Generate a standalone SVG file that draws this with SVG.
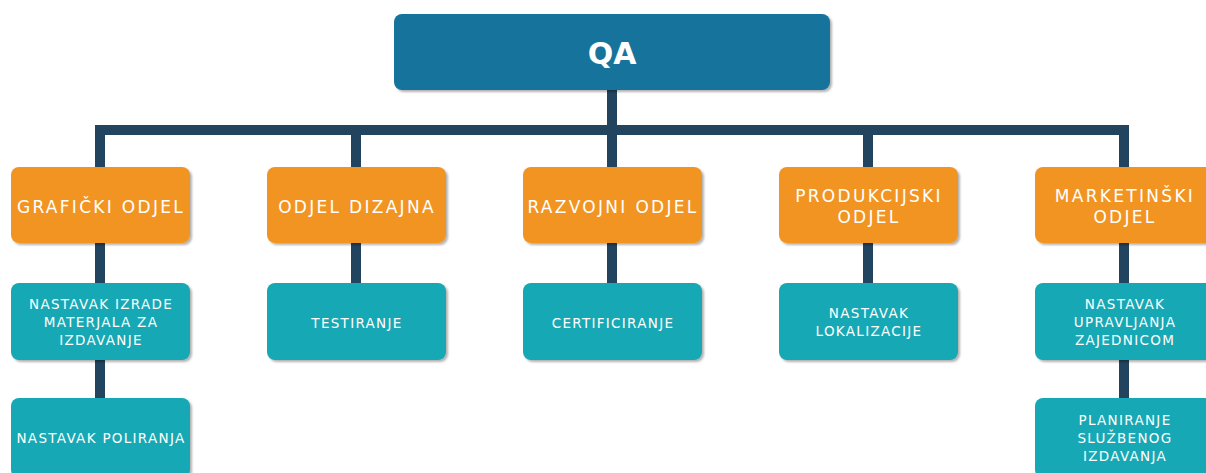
<svg xmlns="http://www.w3.org/2000/svg" width="1206" height="473" viewBox="0 0 1206 473">
<defs>
<filter id="sh" x="-10%" y="-10%" width="125%" height="130%">
<feDropShadow dx="2" dy="2" stdDeviation="1.2" flood-color="#000" flood-opacity="0.3"/>
</filter>
<style>
.conn{stroke:#22445E;stroke-width:10;fill:none}
.top{fill:#13739C;filter:url(#sh)}
.dept{fill:#F19421;filter:url(#sh)}
.task{fill:#13A8B4;filter:url(#sh)}
text{fill:#fff;text-anchor:middle;dominant-baseline:central;font-family:"DejaVu Sans",Verdana,sans-serif}
.t0{font-size:30px;font-weight:bold}
.t1{font-size:17px;letter-spacing:2.3px}
.t2{font-size:13.5px;letter-spacing:1.3px}
</style>
</defs>
<rect width="1206" height="473" fill="#fff"/>
<g id="connectors">
<path class="conn" d="M612 90V130M95 130H1129M100 130V167M356 130V167M612 130V167M868 130V167M1124 130V167"/>
<path class="conn" d="M100 243V283M356 243V283M612 243V283M868 243V283M1124 243V283M100 360V398M1124 360V398"/>
</g>
<g id="qa"><rect class="top" x="394" y="14" width="436" height="76" rx="8"/><text class="t0" x="612" y="53">QA</text></g>
<g id="graficki"><rect class="dept" x="11" y="167" width="179" height="76" rx="8"/><text class="t1" x="101" y="207">GRAFIČKI ODJEL</text></g>
<g id="dizajn"><rect class="dept" x="267" y="167" width="179" height="76" rx="8"/><text class="t1" x="357" y="207">ODJEL DIZAJNA</text></g>
<g id="razvojni"><rect class="dept" x="523" y="167" width="179" height="76" rx="8"/><text class="t1" x="613" y="207">RAZVOJNI ODJEL</text></g>
<g id="produkcijski"><rect class="dept" x="779" y="167" width="179" height="76" rx="8"/><text class="t1" x="869" y="196">PRODUKCIJSKI</text><text class="t1" x="869" y="217">ODJEL</text></g>
<g id="marketinski"><rect class="dept" x="1035" y="167" width="179" height="76" rx="8"/><text class="t1" x="1125" y="196">MARKETINŠKI</text><text class="t1" x="1125" y="217">ODJEL</text></g>
<g id="izrada"><rect class="task" x="11" y="283" width="179" height="77" rx="8"/><text class="t2" x="101" y="304">NASTAVAK IZRADE</text><text class="t2" x="101" y="322">MATERJALA ZA</text><text class="t2" x="101" y="340">IZDAVANJE</text></g>
<g id="testiranje"><rect class="task" x="267" y="283" width="179" height="77" rx="8"/><text class="t2" x="357" y="323">TESTIRANJE</text></g>
<g id="certificiranje"><rect class="task" x="523" y="283" width="179" height="77" rx="8"/><text class="t2" x="613" y="323">CERTIFICIRANJE</text></g>
<g id="lokalizacija"><rect class="task" x="779" y="283" width="179" height="77" rx="8"/><text class="t2" x="869" y="313">NASTAVAK</text><text class="t2" x="869" y="331">LOKALIZACIJE</text></g>
<g id="zajednica"><rect class="task" x="1035" y="283" width="179" height="77" rx="8"/><text class="t2" x="1125" y="304">NASTAVAK</text><text class="t2" x="1125" y="322">UPRAVLJANJA</text><text class="t2" x="1125" y="340">ZAJEDNICOM</text></g>
<g id="poliranje"><rect class="task" x="11" y="398" width="179" height="80" rx="8"/><text class="t2" x="101" y="438">NASTAVAK POLIRANJA</text></g>
<g id="planiranje"><rect class="task" x="1035" y="398" width="179" height="80" rx="8"/><text class="t2" x="1125" y="420">PLANIRANJE</text><text class="t2" x="1125" y="438">SLUŽBENOG</text><text class="t2" x="1125" y="456">IZDAVANJA</text></g>
</svg>
